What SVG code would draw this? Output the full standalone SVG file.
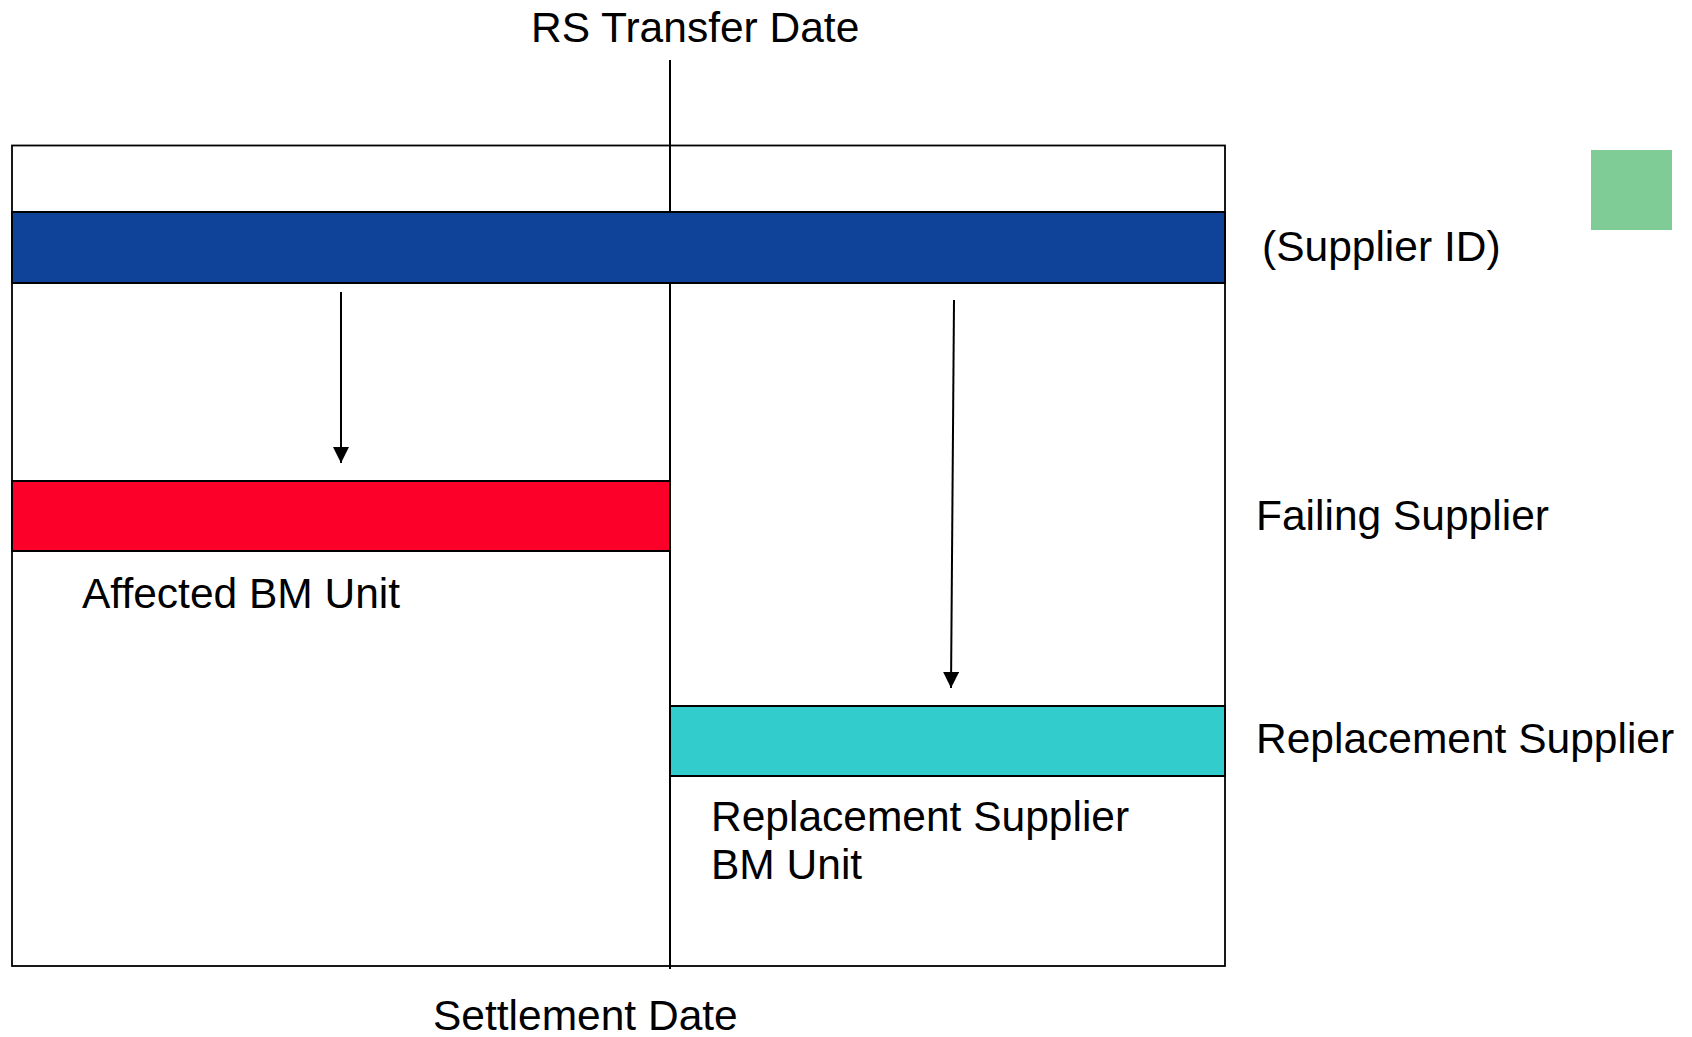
<svg xmlns="http://www.w3.org/2000/svg" width="1692" height="1037" viewBox="0 0 1692 1037">
<style>
text { font-family: "Liberation Sans", Arial, sans-serif; font-size: 42.5px; fill: #000; }
.band { stroke: #000; stroke-width: 2; }
.line { stroke: #000; stroke-width: 2; fill: none; }
</style>
<defs>
<marker id="arrow" viewBox="0 0 16 16" refX="16" refY="8" markerWidth="16" markerHeight="16" markerUnits="userSpaceOnUse" orient="auto">
<path d="M0,0 L16,8 L0,16 Z" fill="#000"/>
</marker>
</defs>
<rect width="1692" height="1037" fill="#fff"/>
<g id="frame">
<rect x="12" y="145.5" width="1213" height="820.5" fill="none" stroke="#000" stroke-width="1.8"/>
</g>
<g id="divider">
<line class="line" x1="670" y1="60" x2="670" y2="969"/>
</g>
<g id="supplier-id-band">
<rect class="band" x="12" y="212" width="1213" height="71" fill="#0E4399"/>
</g>
<g id="failing-band">
<rect class="band" x="12" y="481" width="658" height="70" fill="#FC0029"/>
</g>
<g id="replacement-band">
<rect class="band" x="670" y="706" width="555" height="70" fill="#33CCCC"/>
</g>
<g id="legend-square">
<rect x="1591" y="150" width="81" height="80" fill="#80CC96"/>
</g>
<g id="connectors">
<line class="line" x1="341" y1="292" x2="341" y2="463" marker-end="url(#arrow)"/>
<line class="line" x1="954" y1="300" x2="951" y2="688" marker-end="url(#arrow)"/>
</g>
<g id="labels">
<text x="531" y="42">RS Transfer Date</text>
<text x="1262" y="261">(Supplier ID)</text>
<text x="1256" y="530">Failing Supplier</text>
<text x="1256" y="753">Replacement Supplier</text>
<text x="82" y="608">Affected BM Unit</text>
<text x="711" y="831">Replacement Supplier</text>
<text x="711" y="879">BM Unit</text>
<text x="433" y="1030">Settlement Date</text>
</g>
</svg>
